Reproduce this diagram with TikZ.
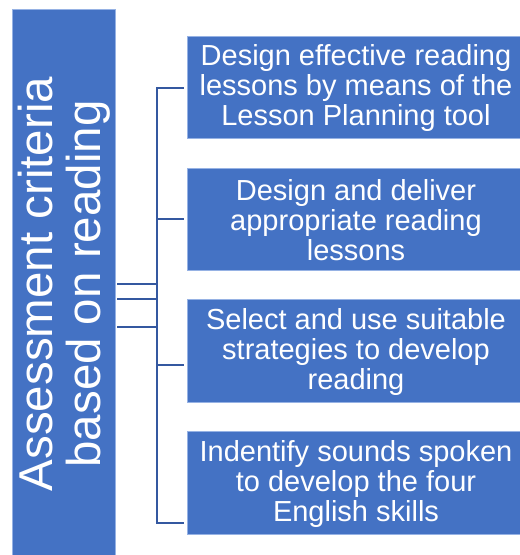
\documentclass[tikz,border=0pt]{standalone}
\usepackage{fontspec}
\setmainfont{Liberation Sans}
\definecolor{boxblue}{RGB}{68,114,196}
\definecolor{edgeblue}{RGB}{150,178,228}
\definecolor{linkblue}{RGB}{52,88,160}
\begin{document}
\begin{tikzpicture}[x=1pt,y=-1pt,
  rbox/.style={fill=boxblue,draw=edgeblue,line width=0.8pt},
  rtext/.style={text=white,align=center,font=\fontsize{29}{30}\selectfont,inner sep=0pt},
  link/.style={draw=linkblue,line width=2.2pt}]
\useasboundingbox (0,0) rectangle (520,555);
% left box
\path[rbox] (12.7,9.5) rectangle (115,556);
\node[text=white,align=center,rotate=90,inner sep=0pt,font=\fontsize{47.5}{48}\selectfont] (L) at (64,284) {Assessment criteria\\based on reading};
% right boxes
\path[rbox] (187,36) rectangle (520,138);
\path[rbox] (187,168) rectangle (520,270);
\path[rbox] (187,299) rectangle (520,402);
\path[rbox] (187,431) rectangle (520,534);
\node[rtext] (b1) at (356,88) {Design effective reading\\lessons by means of the\\Lesson Planning tool};
\node[rtext] (b2) at (356,220) {Design and deliver\\appropriate reading\\lessons};
\node[rtext] (b3) at (356,351.5) {Select and use suitable\\strategies to develop\\reading};
\node[rtext] (b4) at (356,483.5) {Indentify sounds spoken\\to develop the four\\English skills};
% connectors
\coordinate (s1) at (117,284);
\coordinate (s2) at (117,299);
\coordinate (s3) at (117,327);
\coordinate (t1) at (184,88);
\coordinate (t2) at (184,219);
\coordinate (t3) at (184,365);
\coordinate (t4) at (184,523);
\coordinate (bus) at (157,0);
\draw[link] (s1) -- (bus |- s1);
\draw[link] (s2) -- (bus |- s2);
\draw[link] (s3) -- (bus |- s3);
\draw[link] (t1) -- (bus |- t1) -- (bus |- t4) -- (t4);
\draw[link] (bus |- t2) -- (t2);
\draw[link] (bus |- t3) -- (t3);
\end{tikzpicture}
\end{document}
